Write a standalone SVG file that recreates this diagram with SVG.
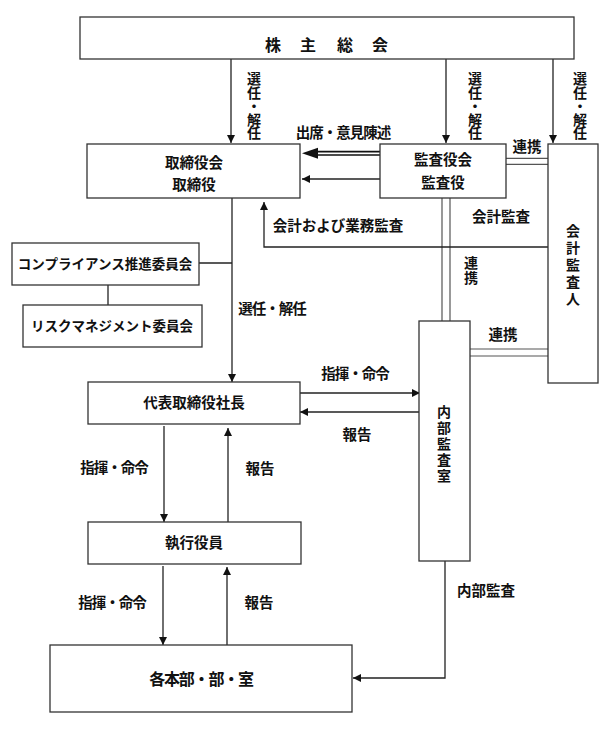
<svg xmlns="http://www.w3.org/2000/svg" width="615" height="733" viewBox="0 0 615 733">
<defs>
<marker id="ah" viewBox="0 0 10 10" refX="10" refY="5" markerWidth="8" markerHeight="8" markerUnits="userSpaceOnUse" orient="auto">
<path d="M0,0 L10,5 L0,10 z" fill="#111"/>
</marker>
</defs>
<style>
.box{fill:#fff;stroke:#333;stroke-width:1.3}
.ln{fill:none;stroke:#222;stroke-width:1.3}
.dl{fill:none;stroke:#555;stroke-width:1.2}
.t{font-family:"Noto Sans CJK JP","Noto Sans CJK SC",sans-serif;font-weight:700;font-size:14.5px;fill:#111;text-anchor:middle}
.b{font-size:14.5px}
.n{letter-spacing:-1px}
.v{font-size:14px;writing-mode:vertical-rl;text-anchor:start;letter-spacing:-0.5px}
</style>
<rect width="615" height="733" fill="#fff"/>

<g id="connectors">
<path class="ln" d="M231,59 V143" marker-end="url(#ah)"/>
<path class="ln" d="M446,59 V143" marker-end="url(#ah)"/>
<path class="ln" d="M553,59 V143" marker-end="url(#ah)"/>
<path d="M380,151.6 H316 M380,155 H316" fill="none" stroke="#111" stroke-width="1.6"/>
<path d="M302,153.3 L318,147.8 L318,158.8 z" fill="#111"/>
<path class="ln" d="M380,179 H302" marker-end="url(#ah)"/>
<path class="dl" d="M506,158.3 H548 M506,164.3 H548"/>
<path class="dl" d="M442,198 V321 M450,198 V321"/>
<path class="ln" d="M548,247 H264 V202" marker-end="url(#ah)"/>
<path class="dl" d="M470,349 H548 M470,356 H548"/>
<path class="ln" d="M232,198 V382" marker-end="url(#ah)"/>
<path class="ln" d="M199,263 H232"/>
<path class="ln" d="M108,285 V305"/>
<path class="ln" d="M300,393 H420" marker-end="url(#ah)"/>
<path class="ln" d="M419,412 H300" marker-end="url(#ah)"/>
<path class="ln" d="M164,426 V522" marker-end="url(#ah)"/>
<path class="ln" d="M228,522 V428" marker-end="url(#ah)"/>
<path class="ln" d="M163,566 V645" marker-end="url(#ah)"/>
<path class="ln" d="M227,645 V567" marker-end="url(#ah)"/>
<path class="ln" d="M445,561 V678 H353" marker-end="url(#ah)"/>
</g>

<g id="labels">
<g class="t">
<text class="v" x="254" y="72">選任・解任</text>
<text class="v" x="475" y="72">選任・解任</text>
<text class="v" x="580" y="72">選任・解任</text>
<text class="n" x="343" y="138">出席・意見陳述</text>
<text x="527" y="152">連携</text>
<text x="501" y="222">会計監査</text>
<text x="338" y="231">会計および業務監査</text>
<text class="v" x="471" y="256" style="letter-spacing:1px">連携</text>
<text class="n" x="272" y="314">選任・解任</text>
<text x="503" y="340">連携</text>
<text class="n" x="355" y="379">指揮・命令</text>
<text x="357" y="440">報告</text>
<text class="n" x="114" y="473">指揮・命令</text>
<text x="260" y="474">報告</text>
<text class="n" x="112" y="608">指揮・命令</text>
<text x="259" y="608">報告</text>
<text x="486" y="596">内部監査</text>
</g>
</g>

<g id="n-shareholders">
<rect class="box" x="80" y="17" width="494" height="42"/>
<text class="t" style="font-size:16px" y="51"><tspan x="273">株</tspan><tspan x="308">主</tspan><tspan x="345">総</tspan><tspan x="380">会</tspan></text>
</g>
<g id="n-board">
<rect class="box" x="87" y="144" width="213" height="54"/>
<text class="t b" x="194" y="168">取締役会</text>
<text class="t b" x="194" y="190">取締役</text>
</g>
<g id="n-auditors">
<rect class="box" x="380" y="144" width="126" height="54"/>
<text class="t b" x="443" y="165">監査役会</text>
<text class="t b" x="443" y="188">監査役</text>
</g>
<g id="n-accounting-auditor">
<rect class="box" x="548" y="144" width="50" height="239"/>
<text class="t v" x="573" y="224" style="letter-spacing:3px">会計監査人</text>
</g>
<g id="n-compliance">
<rect class="box" x="12" y="243" width="187" height="42"/>
<text class="t" style="font-size:13.5px" x="105" y="269">コンプライアンス推進委員会</text>
</g>
<g id="n-risk">
<rect class="box" x="23" y="305" width="179" height="42"/>
<text class="t" style="font-size:13.5px" x="112" y="331">リスクマネジメント委員会</text>
</g>
<g id="n-internal-audit">
<rect class="box" x="419" y="321" width="51" height="240"/>
<text class="t v" x="444" y="405" style="letter-spacing:2px">内部監査室</text>
</g>
<g id="n-president">
<rect class="box" x="88" y="382" width="212" height="42"/>
<text class="t b" x="194" y="408">代表取締役社長</text>
</g>
<g id="n-officers">
<rect class="box" x="88" y="522" width="213" height="42"/>
<text class="t b" x="194" y="548">執行役員</text>
</g>
<g id="n-departments">
<rect class="box" x="50" y="645" width="302" height="67"/>
<text class="t" style="font-size:16px;letter-spacing:-1.2px" x="201" y="685">各本部・部・室</text>
</g>
</svg>
